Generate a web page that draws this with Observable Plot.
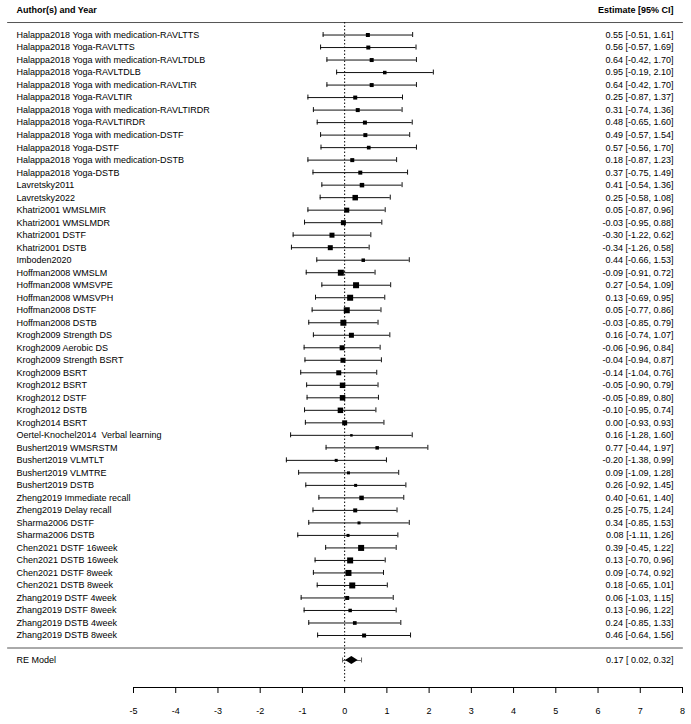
<!DOCTYPE html>
<html>
<head>
<meta charset="utf-8">
<script src="https://cdn.jsdelivr.net/npm/d3@7"></script>
<script src="https://cdn.jsdelivr.net/npm/@observablehq/plot@0.6"></script>
<style>
  body { margin: 0; background: #fff; }
  svg text { white-space: pre; }
</style>
</head>
<body>
<div id="chart"></div>
<script>
const studies = [
  "Halappa2018 Yoga with medication-RAVLTTS",
  "Halappa2018 Yoga-RAVLTTS",
  "Halappa2018 Yoga with medication-RAVLTDLB",
  "Halappa2018 Yoga-RAVLTDLB",
  "Halappa2018 Yoga with medication-RAVLTIR",
  "Halappa2018 Yoga-RAVLTIR",
  "Halappa2018 Yoga with medication-RAVLTIRDR",
  "Halappa2018 Yoga-RAVLTIRDR",
  "Halappa2018 Yoga with medication-DSTF",
  "Halappa2018 Yoga-DSTF",
  "Halappa2018 Yoga with medication-DSTB",
  "Halappa2018 Yoga-DSTB",
  "Lavretsky2011",
  "Lavretsky2022",
  "Khatri2001 WMSLMIR",
  "Khatri2001 WMSLMDR",
  "Khatri2001 DSTF",
  "Khatri2001 DSTB",
  "Imboden2020",
  "Hoffman2008 WMSLM",
  "Hoffman2008 WMSVPE",
  "Hoffman2008 WMSVPH",
  "Hoffman2008 DSTF",
  "Hoffman2008 DSTB",
  "Krogh2009 Strength DS",
  "Krogh2009 Aerobic DS",
  "Krogh2009 Strength BSRT",
  "Krogh2009 BSRT",
  "Krogh2012 BSRT",
  "Krogh2012 DSTF",
  "Krogh2012 DSTB",
  "Krogh2014 BSRT",
  "Oertel-Knochel2014  Verbal learning",
  "Bushert2019 WMSRSTM",
  "Bushert2019 VLMTLT",
  "Bushert2019 VLMTRE",
  "Bushert2019 DSTB",
  "Zheng2019 Immediate recall",
  "Zheng2019 Delay recall",
  "Sharma2006 DSTF",
  "Sharma2006 DSTB",
  "Chen2021 DSTF 16week",
  "Chen2021 DSTB 16week",
  "Chen2021 DSTF 8week",
  "Chen2021 DSTB 8week",
  "Zhang2019 DSTF 4week",
  "Zhang2019 DSTF 8week",
  "Zhang2019 DSTB 4week",
  "Zhang2019 DSTB 8week"
];
const estimates = [0.55,0.56,0.64,0.95,0.64,0.25,0.31,0.48,0.49,0.57,0.18,0.37,
  0.41,0.25,0.05,-0.03,-0.30,-0.34,0.44,-0.09,0.27,0.13,0.05,-0.03,
  0.16,-0.06,-0.04,-0.14,-0.05,-0.05,-0.10,0.00,0.16,0.77,-0.20,0.09,0.26,
  0.40,0.25,0.34,0.08,0.39,0.13,0.09,0.18,0.06,0.13,0.24,0.46];
const lower = [-0.51,-0.57,-0.42,-0.19,-0.42,-0.87,-0.74,-0.65,-0.57,-0.56,-0.87,-0.75,
  -0.54,-0.58,-0.87,-0.95,-1.22,-1.26,-0.66,-0.91,-0.54,-0.69,-0.77,-0.85,
  -0.74,-0.96,-0.94,-1.04,-0.90,-0.89,-0.95,-0.93,-1.28,-0.44,-1.38,-1.09,-0.92,
  -0.61,-0.75,-0.85,-1.11,-0.45,-0.70,-0.74,-0.65,-1.03,-0.96,-0.85,-0.64];
const upper = [1.61,1.69,1.70,2.10,1.70,1.37,1.36,1.60,1.54,1.70,1.23,1.49,
  1.36,1.08,0.96,0.88,0.62,0.58,1.53,0.72,1.09,0.95,0.86,0.79,
  1.07,0.84,0.87,0.76,0.79,0.80,0.74,0.93,1.60,1.97,0.99,1.28,1.45,
  1.40,1.24,1.53,1.26,1.22,0.96,0.92,1.01,1.15,1.22,1.33,1.56];
// box side in pixels
const boxSide = [4,4,4,3.5,4,4,4,4,4,3.7,4,4,
  4.5,5.5,5,5,5,5,3.5,6,6,6,6,6,
  5,5,5,5,5.5,5.5,5.5,5,2.5,3.5,3,3,3,
  4.5,4,3,3,6,6,6,6,4,3.5,3.7,4];

const reLabel = "RE Model";
const reEstimate = 0.17, reLower = 0.02, reUpper = 0.32;
const rePredLower = -0.05, rePredUpper = 0.40;

const axisTicks = [-5,-4,-3,-2,-1,0,1,2,3,4,5,6,7,8];
const headerLeft = "Author(s) and Year";
const headerRight = "Estimate [95% CI]";

// row layout (metafor style): studies k..1, separator 0, RE -1, header line k+1, header k+2
const k = studies.length;
const rows = studies.map((s, i) => ({
  name: s, est: estimates[i], lo: lower[i], hi: upper[i], side: boxSide[i], row: k - i
}));
const fmt = v => v.toFixed(2);
const fmtLo = v => (v >= 0 ? " " : "") + fmt(v);
rows.forEach(d => d.label = `${fmt(d.est)} [${fmtLo(d.lo)}, ${fmt(d.hi)}]`);
const reRow = -1;
const reText = `${fmt(reEstimate)} [${fmtLo(reLower)}, ${fmt(reUpper)}]`;
const axisRow = -3.157;
const diamondHalf = 0.32;
const whisk = 0.2;

const diamond = [
  {x: reLower, y1: reRow, y2: reRow},
  {x: reEstimate, y1: reRow - diamondHalf, y2: reRow + diamondHalf},
  {x: reUpper, y1: reRow, y2: reRow}
];

const font = "Liberation Sans, Arial, sans-serif";
const fs = 9;

const chart = Plot.plot({
  width: 691,
  height: 724,
  marginLeft: 0,
  marginRight: 0,
  marginTop: 0,
  marginBottom: 37,
  style: {fontFamily: font, fontSize: fs + "px", color: "#000", background: "#fff"},
  x: {domain: [-5, 8], range: [133, 682], axis: null},
  y: {domain: [axisRow, 51.76], axis: null},
  r: {type: "identity"},
  marks: [
    // header / separator lines
    Plot.ruleY([k + 1, 0], {x1: -7.98, x2: 8.02, stroke: "#555", strokeWidth: 1}),
    // reference line at 0
    Plot.ruleX([0], {y1: k + 1, y2: axisRow + 0.45, stroke: "#000", strokeDasharray: "1.5,2"}),
    // confidence intervals
    Plot.ruleY(rows, {y: "row", x1: "lo", x2: "hi", stroke: "#111", strokeWidth: 1}),
    Plot.ruleX(rows, {x: "lo", y1: d => d.row - whisk, y2: d => d.row + whisk, stroke: "#111"}),
    Plot.ruleX(rows, {x: "hi", y1: d => d.row - whisk, y2: d => d.row + whisk, stroke: "#111"}),
    // boxes
    Plot.dot(rows, {x: "est", y: "row", symbol: "square", r: d => d.side / Math.sqrt(Math.PI), fill: "#000", stroke: null}),
    // RE model: prediction interval and diamond
    Plot.ruleY([reRow], {x1: rePredLower, x2: rePredUpper, stroke: "#666", strokeWidth: 1}),
    Plot.ruleX([rePredLower, rePredUpper], {y1: reRow - whisk, y2: reRow + whisk, stroke: "#666"}),
    Plot.areaY(diamond, {x: "x", y1: "y1", y2: "y2", fill: "#000", curve: "linear"}),
    // study labels
    Plot.text(rows, {y: "row", text: "name", frameAnchor: "left", dx: 16, textAnchor: "start", fill: "#000", fontSize: fs}),
    Plot.text(rows, {y: "row", text: "label", frameAnchor: "right", dx: -18, textAnchor: "end", fill: "#000", fontSize: fs}),
    Plot.text([reLabel], {y: reRow, text: d => d, frameAnchor: "left", dx: 16, textAnchor: "start", fill: "#000", fontSize: fs}),
    Plot.text([reText], {y: reRow, text: d => d, frameAnchor: "right", dx: -18, textAnchor: "end", fill: "#000", fontSize: fs}),
    // headers
    Plot.text([headerLeft], {y: k + 2, text: d => d, frameAnchor: "left", dx: 16, textAnchor: "start", fontWeight: "bold", fill: "#000", fontSize: fs}),
    Plot.text([headerRight], {y: k + 2, text: d => d, frameAnchor: "right", dx: -18, textAnchor: "end", fontWeight: "bold", fill: "#000", fontSize: fs}),
    // x axis
    Plot.ruleY([axisRow], {x1: axisTicks[0], x2: axisTicks[axisTicks.length - 1], stroke: "#000"}),
    Plot.axisX({ticks: axisTicks, tickSize: 6, tickPadding: 14, tickFormat: d => String(d), fontSize: fs, stroke: "#000", fill: "#000"})
  ]
});
document.getElementById("chart").appendChild(chart);
</script>
</body>
</html>
